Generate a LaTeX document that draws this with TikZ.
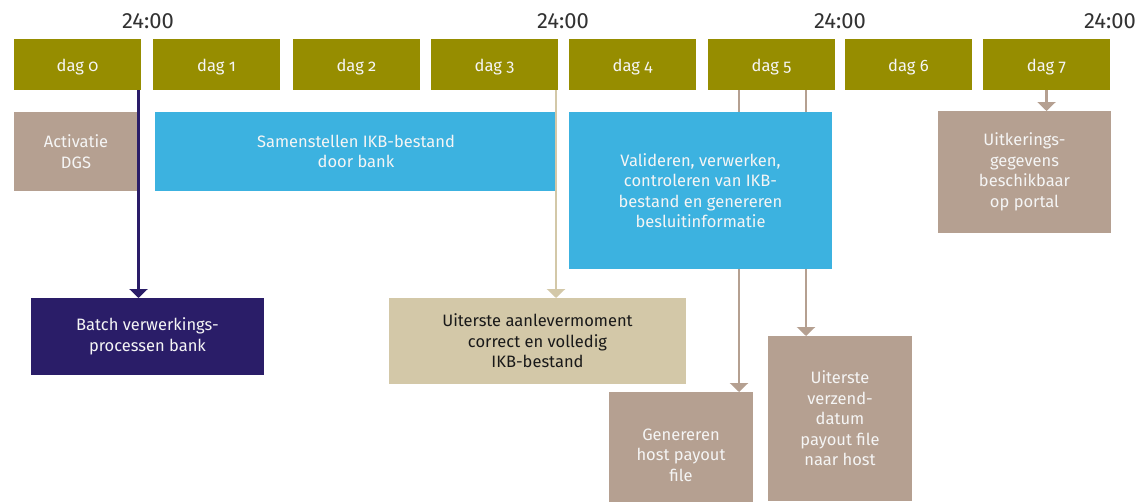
\documentclass[tikz,border=0pt]{standalone}
\usepackage{fontspec}
\setmainfont{Fira Sans}
\newfontfamily\dayfont[Numbers=OldStyle]{Fira Sans}
\usetikzlibrary{arrows.meta}
\definecolor{olive}{RGB}{150,141,0}
\definecolor{taupe}{RGB}{181,160,145}
\definecolor{skyblue}{RGB}{60,178,224}
\definecolor{navy}{RGB}{42,29,104}
\definecolor{sand}{RGB}{211,200,168}
\definecolor{timegray}{RGB}{50,50,50}
\definecolor{offwhite}{RGB}{245,245,245}
\pgfdeclarelayer{back}
\pgfsetlayers{back,main}
\tikzset{
  box/.style={inner sep=0pt, outer sep=0pt, align=center, text=offwhite,
    font=\fontsize{16.5}{20.5}\selectfont},
  daybox/.style={box, fill=olive, minimum width=127pt, minimum height=51pt,
    text height=17.5pt, text depth=3.5pt,
    font=\dayfont\fontsize{16.5}{20}\selectfont},
  timelabel/.style={inner sep=0pt, text=timegray, font=\fontsize{22}{24}\selectfont},
  arr/.style={line width=2.5pt, -{Triangle[width=18pt,length=9pt]}},
}
\begin{document}
\begin{tikzpicture}[x=1pt,y=-1pt]
\clip (0,0) rectangle (1145,501);
% day boxes
\node[daybox] (d0) at (77.5,64.5) {dag 0};
\node[daybox] (d1) at (216.5,64.5) {dag 1};
\node[daybox] (d2) at (356.5,64.5) {dag 2};
\node[daybox] (d3) at (494.5,64.5) {dag 3};
\node[daybox] (d4) at (632.5,64.5) {dag 4};
\node[daybox] (d5) at (771.5,64.5) {dag 5};
\node[daybox] (d6) at (908.5,64.5) {dag 6};
\node[daybox] (d7) at (1046.5,64.5) {dag 7};
% time labels
\node[timelabel] (t1) at (148,21) {24:00};
\node[timelabel] (t2) at (563,21) {24:00};
\node[timelabel] (t3) at (840,21) {24:00};
\node[timelabel] (t4) at (1110,21) {24:00};
% process boxes
\node[box, fill=taupe, minimum width=124pt, minimum height=79pt] (act) at (76,151.5) {Activatie\\DGS};
\node[box, fill=skyblue, minimum width=402pt, minimum height=79pt] (sam) at (356,151.5) {Samenstellen IKB-bestand\\door bank};
\node[box, fill=skyblue, minimum width=263pt, minimum height=157pt] (val) at (700.5,190.5) {Valideren, verwerken,\\controleren van IKB-\\bestand en genereren\\besluitinformatie};
\node[box, fill=navy, minimum width=233pt, minimum height=77pt] (bat) at (147.5,336.5) {Batch verwerkings-\\processen bank};
\node[box, fill=sand, text=black!90, minimum width=297pt, minimum height=86pt] (aan) at (537.5,341) {Uiterste aanlevermoment\\correct en volledig\\IKB-bestand};
\node[box, fill=taupe, minimum width=144pt, minimum height=126pt] (gen) at (681,455) {Genereren\\host payout\\file};
\node[box, fill=taupe, minimum width=144pt, minimum height=165pt] (ver) at (840,418.5) {Uiterste\\verzend-\\datum\\payout file\\naar host};
\node[box, fill=taupe, minimum width=173pt, minimum height=122pt] (uit) at (1024.5,172) {Uitkerings-\\gegevens\\beschikbaar\\op portal};
% connectors
\begin{pgfonlayer}{back}
\draw[arr, taupe] ([xshift=-32.5pt]d5.south) -- ([xshift=-32.5pt]d5.south |- gen.north);
\draw[arr, taupe] ([xshift=34.5pt]d5.south) -- ([xshift=34.5pt]d5.south |- ver.north);
\end{pgfonlayer}
\draw[arr, navy] ([xshift=-2.5pt]d0.south east) -- ([xshift=-2.5pt]d0.south east |- bat.north);
\draw[arr, sand] ([xshift=-2pt]d3.south east) -- ([xshift=-2pt]d3.south east |- aan.north);
\draw[arr, taupe] (d7.south) -- (d7.south |- uit.north);
\end{tikzpicture}
\end{document}
